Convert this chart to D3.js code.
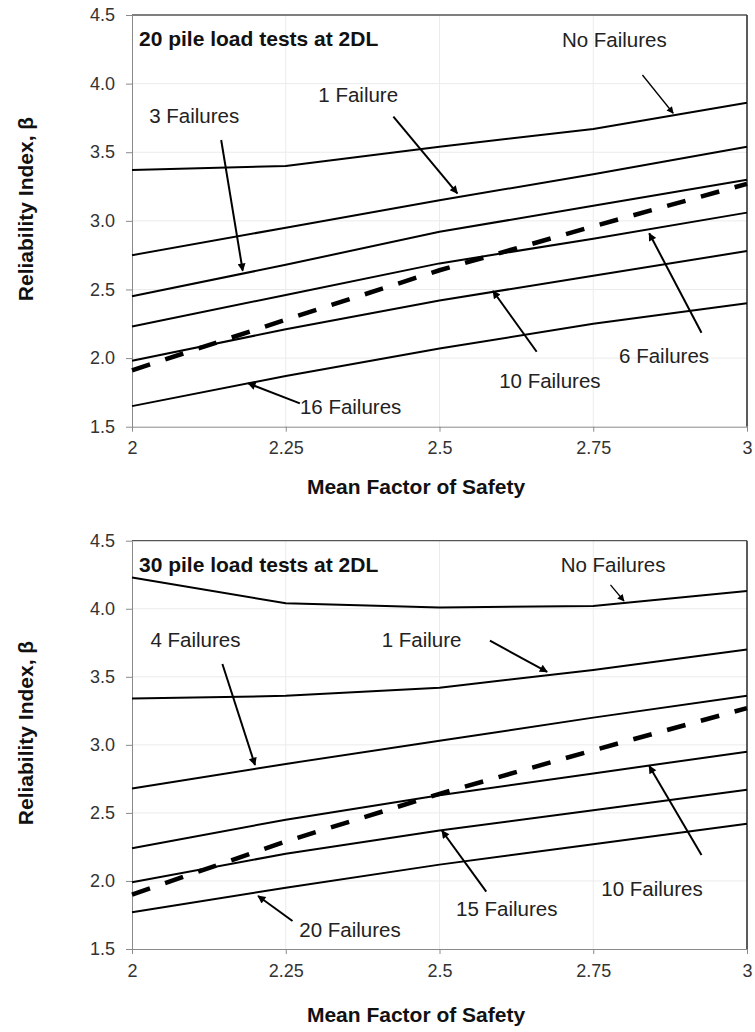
<!DOCTYPE html>
<html lang="en">
<head>
<meta charset="UTF-8">
<title>Reliability Index vs Mean Factor of Safety</title>
<script src="https://cdn.jsdelivr.net/npm/d3@7"></script>
<style>
  body { margin: 0; background: #fff; }
  svg text { font-family: "Liberation Sans", Arial, sans-serif; }
  .grid line { stroke: #ebebeb; stroke-width: 1; }
  .axis path, .axis line { stroke: #8a8a8a; }
  .axis text { font-size: 18px; fill: #333; }
  .note { font-size: 20.5px; fill: #222; }
  .bold { font-size: 21px; font-weight: bold; fill: #111; }
</style>
</head>
<body>
<div id="chart"></div>
<script>
// x values (mean factor of safety) and tick labels
const xFS = [2, 2.25, 2.5, 2.75, 3];
const xTickLabels = ["2", "2.25", "2.5", "2.75", "3"];
const yTicks = [1.5, 2, 2.5, 3, 3.5, 4, 4.5];
const yTickLabels = ["1.5", "2.0", "2.5", "3.0", "3.5", "4.0", "4.5"];

// 20 pile load tests at 2DL
const p20NoFail = [3.37, 3.40, 3.54, 3.67, 3.86];
const p20Fail1  = [2.75, 2.95, 3.15, 3.34, 3.54];
const p20Fail3  = [2.45, 2.68, 2.92, 3.11, 3.30];
const p20Fail6  = [2.23, 2.46, 2.69, 2.87, 3.06];
const p20Fail10 = [1.98, 2.21, 2.42, 2.60, 2.78];
const p20Fail16 = [1.65, 1.87, 2.07, 2.25, 2.40];
const p20Dashed = [1.91, 2.28, 2.64, 2.96, 3.27];

// 30 pile load tests at 2DL
const p30NoFail = [4.23, 4.04, 4.01, 4.02, 4.13];
const p30Fail1  = [3.34, 3.36, 3.42, 3.55, 3.70];
const p30Fail4  = [2.68, 2.86, 3.03, 3.20, 3.36];
const p30Fail10 = [2.24, 2.45, 2.63, 2.79, 2.95];
const p30Fail15 = [1.99, 2.20, 2.37, 2.52, 2.67];
const p30Fail20 = [1.77, 1.95, 2.12, 2.27, 2.42];
const p30Dashed = [1.90, 2.29, 2.64, 2.96, 3.27];

// labels: text, label anchor (x, beta), arrow from -> to (x, beta)
const p20Notes = [
  {text: "No Failures", lx: 2.699, ly: 4.265, x1: 2.830, y1: 4.063, x2: 2.880, y2: 3.784, thin: true},
  {text: "1 Failure",   lx: 2.303, ly: 3.868, x1: 2.425, y1: 3.759, x2: 2.529, y2: 3.201},
  {text: "3 Failures",  lx: 2.028, ly: 3.715, x1: 2.145, y1: 3.589, x2: 2.180, y2: 2.637},
  {text: "6 Failures",  lx: 2.792, ly: 1.966, x1: 2.926, y1: 2.185, x2: 2.841, y2: 2.909},
  {text: "10 Failures", lx: 2.597, ly: 1.780, x1: 2.658, y1: 2.046, x2: 2.587, y2: 2.489},
  {text: "16 Failures", lx: 2.273, ly: 1.592, x1: 2.273, y1: 1.670, x2: 2.189, y2: 1.816}
];
const p30Notes = [
  {text: "No Failures", lx: 2.697, ly: 4.272, x1: 2.778, y1: 4.175, x2: 2.800, y2: 4.057, thin: true},
  {text: "1 Failure",   lx: 2.406, ly: 3.721, x1: 2.582, y1: 3.765, x2: 2.675, y2: 3.537},
  {text: "4 Failures",  lx: 2.030, ly: 3.717, x1: 2.147, y1: 3.594, x2: 2.200, y2: 2.852},
  {text: "10 Failures", lx: 2.763, ly: 1.889, x1: 2.926, y1: 2.191, x2: 2.841, y2: 2.845},
  {text: "15 Failures", lx: 2.527, ly: 1.742, x1: 2.576, y1: 1.921, x2: 2.504, y2: 2.369},
  {text: "20 Failures", lx: 2.272, ly: 1.590, x1: 2.261, y1: 1.706, x2: 2.205, y2: 1.889}
];

const W = 755, H = 1032;
const svg = d3.select("#chart").append("svg")
    .attr("width", W)
    .attr("height", H);

const defs = svg.append("defs");
function addMarker(id, len, wid) {
  defs.append("marker")
      .attr("id", id)
      .attr("viewBox", "0 0 10 10")
      .attr("refX", 9)
      .attr("refY", 5)
      .attr("markerWidth", len)
      .attr("markerHeight", wid)
      .attr("markerUnits", "userSpaceOnUse")
      .attr("orient", "auto")
    .append("path")
      .attr("d", "M0,0 L10,5 L0,10 z")
      .attr("fill", "#000");
}
addMarker("head", 11, 8);
addMarker("headThin", 10, 7);

const panels = [
  {top: 15, bottom: 426.7, title: "20 pile load tests at 2DL", yLabelY: 209, xTitleY: 494,
   series: [p20NoFail, p20Fail1, p20Fail3, p20Fail6, p20Fail10, p20Fail16], dashed: p20Dashed, notes: p20Notes},
  {top: 540.7, bottom: 949, title: "30 pile load tests at 2DL", yLabelY: 733, xTitleY: 1022,
   series: [p30NoFail, p30Fail1, p30Fail4, p30Fail10, p30Fail15, p30Fail20], dashed: p30Dashed, notes: p30Notes}
];

const left = 132, right = 747;

panels.forEach(function(p) {
  var x = d3.scaleLinear().domain([2, 3]).range([left, right]);
  var y = d3.scaleLinear().domain([1.5, 4.5]).range([p.bottom, p.top]);
  var g = svg.append("g");

  // gridlines
  var grid = g.append("g").attr("class", "grid");
  grid.selectAll("line.h")
    .data(yTicks.slice(1, -1))
    .enter().append("line")
      .attr("x1", left).attr("x2", right)
      .attr("y1", d => y(d)).attr("y2", d => y(d));
  grid.selectAll("line.v")
    .data(xFS.slice(1, -1))
    .enter().append("line")
      .attr("x1", d => x(d)).attr("x2", d => x(d))
      .attr("y1", p.top).attr("y2", p.bottom);

  // frame (top and right)
  g.append("line")
      .attr("x1", left).attr("x2", right)
      .attr("y1", p.top).attr("y2", p.top)
      .attr("stroke", "#555").attr("stroke-width", 1.3);
  g.append("line")
      .attr("x1", right).attr("x2", right)
      .attr("y1", p.top).attr("y2", p.bottom)
      .attr("stroke", "#333").attr("stroke-width", 1.6);

  // axes
  g.append("g")
      .attr("class", "axis")
      .attr("transform", "translate(" + left + ",0)")
      .call(d3.axisLeft(y).tickValues(yTicks)
        .tickFormat((d, i) => yTickLabels[i])
        .tickSize(6).tickSizeOuter(0).tickPadding(11));
  g.append("g")
      .attr("class", "axis")
      .attr("transform", "translate(0," + p.bottom + ")")
      .call(d3.axisBottom(x).tickValues(xFS)
        .tickFormat((d, i) => xTickLabels[i])
        .tickSize(5).tickSizeOuter(0).tickPadding(10));

  // series lines
  var line = d3.line()
      .x((d, i) => x(xFS[i]))
      .y(d => y(d));
  g.append("g").selectAll("path")
    .data(p.series)
    .enter().append("path")
      .attr("d", line)
      .attr("fill", "none")
      .attr("stroke", "#000")
      .attr("stroke-width", 2);
  g.append("path")
      .datum(p.dashed)
      .attr("d", line)
      .attr("fill", "none")
      .attr("stroke", "#000")
      .attr("stroke-width", 4.5)
      .attr("stroke-dasharray", "19,16");

  // annotations
  var notes = g.append("g");
  notes.selectAll("line")
    .data(p.notes)
    .enter().append("line")
      .attr("x1", d => x(d.x1)).attr("y1", d => y(d.y1))
      .attr("x2", d => x(d.x2)).attr("y2", d => y(d.y2))
      .attr("stroke", "#000")
      .attr("stroke-width", d => d.thin ? 1.3 : 2)
      .attr("marker-end", d => d.thin ? "url(#headThin)" : "url(#head)");
  notes.selectAll("text")
    .data(p.notes)
    .enter().append("text")
      .attr("class", "note")
      .attr("x", d => x(d.lx))
      .attr("y", d => y(d.ly))
      .text(d => d.text);

  // titles
  g.append("text")
      .attr("class", "bold")
      .attr("x", left + 7)
      .attr("y", p.top + 31)
      .text(p.title);
  g.append("text")
      .attr("class", "bold")
      .attr("text-anchor", "middle")
      .attr("x", 416)
      .attr("y", p.xTitleY)
      .text("Mean Factor of Safety");
  g.append("text")
      .attr("class", "bold")
      .attr("text-anchor", "middle")
      .attr("transform", "translate(33," + p.yLabelY + ") rotate(-90)")
      .text("Reliability Index, β");
});
</script>
</body>
</html>
